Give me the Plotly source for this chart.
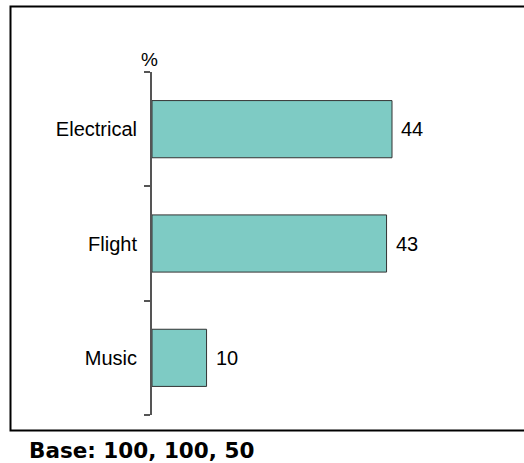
import plotly.graph_objects as go

categories = ["Electrical", "Flight", "Music"]
values = [44, 43, 10]
axis_unit = "%"
base_note = "Base: 100, 100, 50"

W, H = 524, 463
L, R, T, B = 152, 12, 72, 48
pw = W - L - R
ph = H - T - B
n = len(categories)
boundaries = [i - 0.5 for i in range(n + 1)]

fig = go.Figure()
fig.add_trace(go.Bar(
    x=values, y=categories, orientation="h",
    marker=dict(color="#7ECBC4", line=dict(color="#333333", width=1)),
    hoverinfo="skip",
))

annotations = []
for c, v in zip(categories, values):
    annotations.append(dict(
        x=v, y=c, xref="x", yref="y", text=str(v), showarrow=False,
        xanchor="left", yanchor="middle", xshift=7,
        font=dict(family="Liberation Sans, Arial", size=20, color="#000000"),
    ))
annotations.append(dict(
    x=0, y=1, xref="paper", yref="paper", text=axis_unit, showarrow=False,
    xanchor="center", yanchor="bottom", xshift=-3, yshift=0,
    font=dict(family="Liberation Sans, Arial", size=19, color="#000000"),
))
annotations.append(dict(
    x=(27 - L) / pw, y=0, xref="paper", yref="paper", text="<b>" + base_note + "</b>",
    showarrow=False, xanchor="left", yanchor="middle", yshift=-35,
    font=dict(family="DejaVu Sans", size=21.5, color="#000000"),
))

fig.update_layout(
    width=W, height=H,
    margin=dict(l=L, r=R, t=T, b=B, pad=0),
    paper_bgcolor="white", plot_bgcolor="white",
    bargap=0.5,
    showlegend=False,
    xaxis=dict(range=[0, pw / (240 / 44)], visible=False, fixedrange=True),
    yaxis=dict(
        type="category", categoryarray=categories, categoryorder="array",
        range=[n - 0.5, -0.5],
        showline=False, ticks="",
        showgrid=False, zeroline=False,
        ticklabelstandoff=14,
        tickfont=dict(family="Liberation Sans, Arial", size=20, color="#000000"),
    ),
    yaxis2=dict(
        overlaying="y", side="left", anchor="x",
        range=[n - 0.5, -0.5],
        tickmode="array", tickvals=boundaries, showticklabels=False,
        showline=True, linecolor="#555555", linewidth=1.5,
        ticks="outside", ticklen=6, tickcolor="#555555", tickwidth=1.5,
        showgrid=False, zeroline=False,
    ),
    annotations=annotations,
    shapes=[dict(
        type="rect", xref="paper", yref="paper",
        x0=(10.5 - L) / pw, x1=(620 - L) / pw,
        y0=(H - B - 430.5) / ph, y1=(H - B - 6.5) / ph,
        line=dict(color="#000000", width=2), fillcolor="rgba(0,0,0,0)", layer="above",
    )],
)
# invisible helper trace so the boundary axis is drawn
fig.add_trace(go.Scatter(x=[None], y=[None], yaxis="y2", showlegend=False, hoverinfo="skip"))

fig.write_html("out.html")
